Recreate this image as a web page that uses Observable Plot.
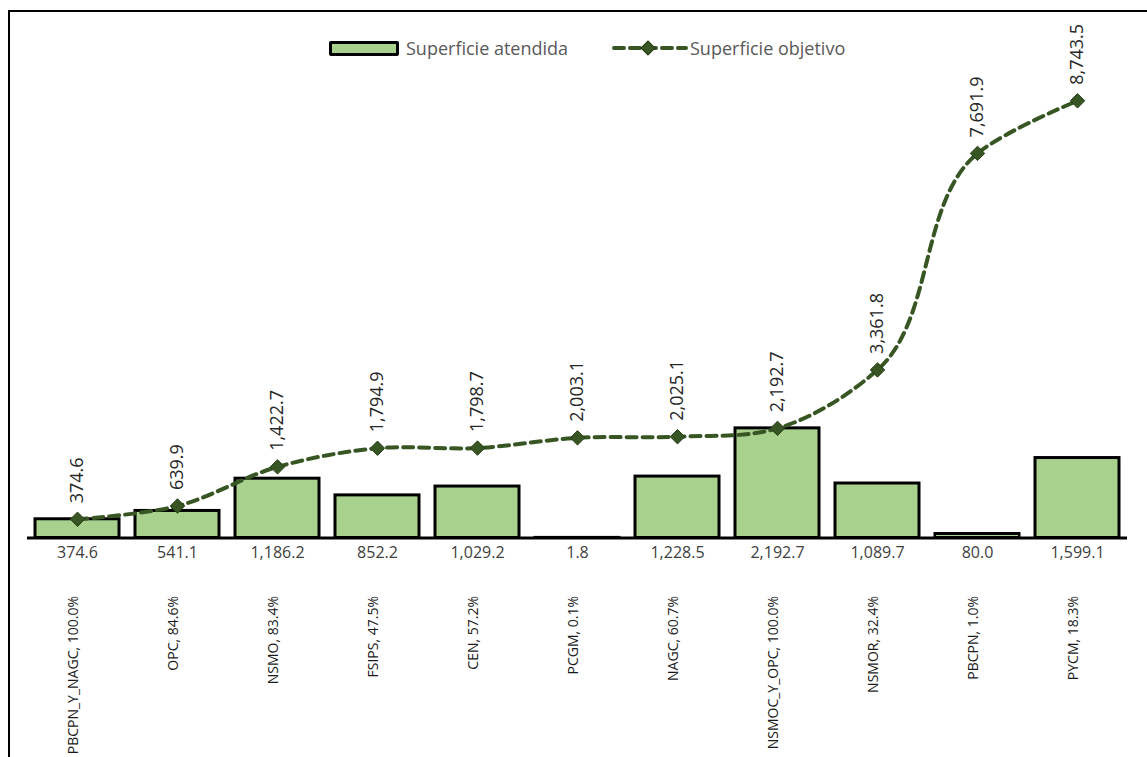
<!DOCTYPE html>
<html>
<head>
<meta charset="utf-8">
<script src="https://cdn.jsdelivr.net/npm/d3@7"></script>
<script src="https://cdn.jsdelivr.net/npm/@observablehq/plot@0.6"></script>
<style>
  html, body { margin: 0; padding: 0; background: #fff; }
  #wrap { position: relative; width: 1147px; height: 757px; overflow: hidden; font-family: "Open Sans", sans-serif; }
  #frame { position: absolute; left: 8px; top: 10px; width: 1200px; height: 800px; border-top: 2.5px solid #000; border-left: 2.5px solid #000; box-sizing: border-box; pointer-events: none; }
  #chart { position: absolute; left: 0; top: 0; }
  .leg { position: absolute; top: 37px; height: 22px; display: flex; align-items: center; font-size: 18px; color: #595959; white-space: nowrap; }
  .sw-bar { width: 64px; height: 9px; background: #a9d18e; border: 3px solid #000; border-radius: 2px; margin-right: 7px; }
</style>
</head>
<body>
<div id="wrap">
  <div id="chart"></div>
  <div id="frame"></div>
  <div class="leg" style="left:329px"><span class="sw-bar"></span><span id="leg1"></span></div>
  <div class="leg" style="left:612px">
    <svg width="76" height="22" style="margin-right:2px">
      <line x1="2" y1="11" x2="74" y2="11" stroke="#375623" stroke-width="4" stroke-dasharray="10,6" stroke-linecap="round"/>
      <rect x="31" y="6" width="10" height="10" transform="rotate(45 36 11)" fill="#375623" stroke="#263d18" stroke-width="1"/>
    </svg><span id="leg2"></span>
  </div>
</div>
<script>
const categories = ["PBCPN_Y_NAGC, 100.0%", "OPC, 84.6%", "NSMO, 83.4%", "FSIPS, 47.5%", "CEN, 57.2%", "PCGM, 0.1%", "NAGC, 60.7%", "NSMOC_Y_OPC, 100.0%", "NSMOR, 32.4%", "PBCPN, 1.0%", "PYCM, 18.3%"];
const attended = [374.6, 541.1, 1186.2, 852.2, 1029.2, 1.8, 1228.5, 2192.7, 1089.7, 80.0, 1599.1];
const objective = [374.6, 639.9, 1422.7, 1794.9, 1798.7, 2003.1, 2025.1, 2192.7, 3361.8, 7691.9, 8743.5];
const seriesNames = ["Superficie atendida", "Superficie objetivo"];

document.getElementById("leg1").textContent = seriesNames[0];
document.getElementById("leg2").textContent = seriesNames[1];

const data = categories.map((c, i) => ({cat: c, att: attended[i], obj: objective[i]}));
const fmt = d3.format(",.1f");
const lineColor = "#375623";

const chart = Plot.plot({
  width: 1147,
  height: 757,
  marginTop: 87.5,
  marginBottom: 219.5,
  marginLeft: 27,
  marginRight: 20,
  style: {fontFamily: "Open Sans, sans-serif", background: "transparent", overflow: "visible"},
  x: {domain: categories, paddingInner: 0.16, paddingOuter: 0.08, axis: null},
  y: {domain: [0, 9000], axis: null},
  marks: [
    Plot.barY(data, {x: "cat", y: "att", fill: "#a9d18e", stroke: "#000", strokeWidth: 3, inset: 0}),
    Plot.ruleY([0], {stroke: "#000", strokeWidth: 3}),
    Plot.line(data, {x: "cat", y: "obj", stroke: lineColor, strokeWidth: 4, strokeDasharray: "10,6", curve: d3.curveCatmullRom.alpha(1)}),
    Plot.dot(data, {x: "cat", y: "obj", symbol: "diamond2", r: 6.5, fill: lineColor, stroke: "#263d18", strokeWidth: 1}),
    Plot.text(data, {x: "cat", y: "obj", text: d => fmt(d.obj), rotate: -90, textAnchor: "start", dy: -16, fontSize: 18, fill: "#262626", letterSpacing: 0.6}),
    Plot.text(data, {x: "cat", y: 0, text: d => fmt(d.att), dy: 15, fontSize: 16, fill: "#404040"}),
    Plot.text(data, {x: "cat", frameAnchor: "bottom", text: "cat", rotate: -90, textAnchor: "end", dy: 58, fontSize: 14, fill: "#1a1a1a"})
  ]
});
document.getElementById("chart").appendChild(chart);
</script>
</body>
</html>
